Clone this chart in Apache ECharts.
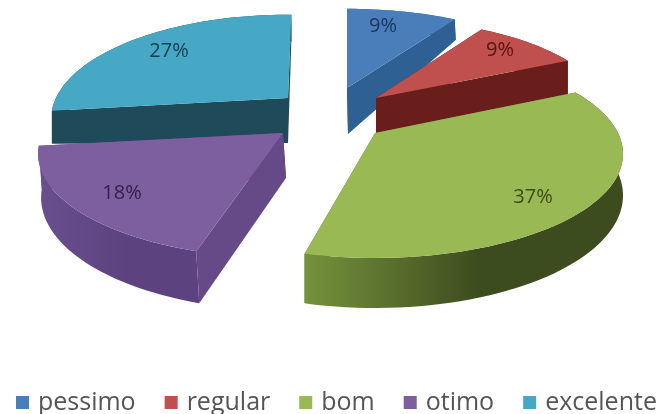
<!DOCTYPE html>
<html>
<head>
<meta charset="utf-8">
<style>
html,body{margin:0;padding:0;background:#fff}
#c{width:662px;height:414px;filter:blur(0.5px)}
</style>
<script src="https://cdn.jsdelivr.net/npm/echarts@6/dist/echarts.min.js"></script>
</head>
<body>
<div id="c"></div>
<script>
const categories = ['pessimo', 'regular', 'bom', 'otimo', 'excelente'];
const values = [9, 9, 37, 18, 27];
const topColors = ['#4A7EBB', '#C0504D', '#98B954', '#7D5FA0', '#46A8C5'];
const cutColors = ['#2F6094', '#6A1E1C', '#5F7A2E', '#654A87', '#1F4A5A'];
const rimColors = [['#2F6094','#2F6094'], ['#6A1E1C','#6A1E1C'], ['#76923C','#3C4C1E'], ['#6A4F8E','#5C4380'], ['#1F4A5A','#1F4A5A']];
const labelColors = ['#17365D', '#5A1412', '#3A4D17', '#33204F', '#0E3F50'];
const drawOrder = [1, 2, 3, 4, 0];

// Projection settings per slice: apex, radii, depths, small angle nudges and label offset.
const apexX = [347, 376, 375, 283, 288];
const apexY = [88, 98, 133, 133, 98];
const radiusX = [235, 230, 243, 240, 232];
const radiusY = [95, 95, 100, 100, 100];
const rimDepth = [24, 38, 40, 42, 32];
const apexDepth = [46, 38, 40, 45, 45];
const shiftX = [1, 0, 0, 3, 0];
const startNudge = [0, 0, -1, -1, 0];
const endNudge = [0, 0, -4.5, 0, 1];
const labelDX = [36, 124, 158, -161, -119];
const labelDY = [-62, -48, 64, 60, -47];
const perspective = 0.2;

const total = values.reduce((a, b) => a + b, 0);
function angles(i) {
  let before = 0;
  for (let k = 0; k < i; k++) before += values[k];
  return [before / total * 360 + startNudge[i], (before + values[i]) / total * 360 + endNudge[i]];
}
function project(i, deg) {
  const t = deg * Math.PI / 180, u = Math.sin(t), v = Math.cos(t), w = 1 + perspective * v;
  return { x: apexX[i] + radiusX[i] * u / w, y: apexY[i] - radiusY[i] * v / w, w: w };
}
function lower(i, p) {
  return [p.x + shiftX[i], p.y + rimDepth[i] / p.w];
}
function arcPoints(i, a0, a1) {
  const n = Math.max(2, Math.ceil((a1 - a0) / 2)), pts = [];
  for (let k = 0; k <= n; k++) pts.push(project(i, a0 + (a1 - a0) * k / n));
  return pts;
}
function slice(i) {
  const [a0, a1] = angles(i);
  const arc = arcPoints(i, a0, a1);
  const apex = [apexX[i], apexY[i]];
  const apexLow = [apexX[i] + shiftX[i], apexY[i] + apexDepth[i]];
  const topPts = [apex].concat(arc.map(p => [p.x, p.y]));
  const first = arc[0], last = arc[arc.length - 1];
  const rimPts = arc.map(p => [p.x, p.y]).concat(arc.slice().reverse().map(p => lower(i, p)));
  const kids = [];
  kids.push({ type: 'polygon', shape: { points: [apex, [first.x, first.y], lower(i, first), apexLow] }, style: { fill: cutColors[i] } });
  kids.push({ type: 'polygon', shape: { points: [apex, [last.x, last.y], lower(i, last), apexLow] }, style: { fill: cutColors[i] } });
  kids.push({ type: 'polygon', shape: { points: rimPts }, style: {
    fill: new echarts.graphic.LinearGradient(0, 0, 1, 0, [
      { offset: 0, color: rimColors[i][0] }, { offset: 0.55, color: rimColors[i][1] }, { offset: 1, color: rimColors[i][1] }
    ]) } });
  kids.push({ type: 'polygon', shape: { points: topPts }, style: { fill: topColors[i] } });
  kids.push({ type: 'text', style: {
    text: Math.round(values[i] / total * 100) + '%',
    x: apexX[i] + labelDX[i], y: apexY[i] + labelDY[i],
    align: 'center', verticalAlign: 'middle',
    font: '20px "Open Sans"', fill: labelColors[i]
  } });
  return { type: 'group', children: kids };
}

const series = categories.map((name, i) => ({
  name: name,
  type: 'custom',
  coordinateSystem: 'none',
  z: 2 + drawOrder[i],
  silent: true,
  animation: false,
  itemStyle: { color: topColors[i] },
  data: [[values[i]]],
  renderItem: () => slice(i)
}));

const chart = echarts.init(document.getElementById('c'), null, { renderer: 'canvas' });
chart.setOption({
  animation: false,
  backgroundColor: '#fff',
  legend: {
    data: categories,
    left: 11,
    top: 385,
    icon: 'rect',
    itemWidth: 13,
    itemHeight: 13,
    itemGap: 29,
    textStyle: { fontFamily: '"Open Sans"', fontSize: 25, color: '#555', padding: [0, 0, 0, 4] }
  },
  series: series
});
</script>
</body>
</html>
